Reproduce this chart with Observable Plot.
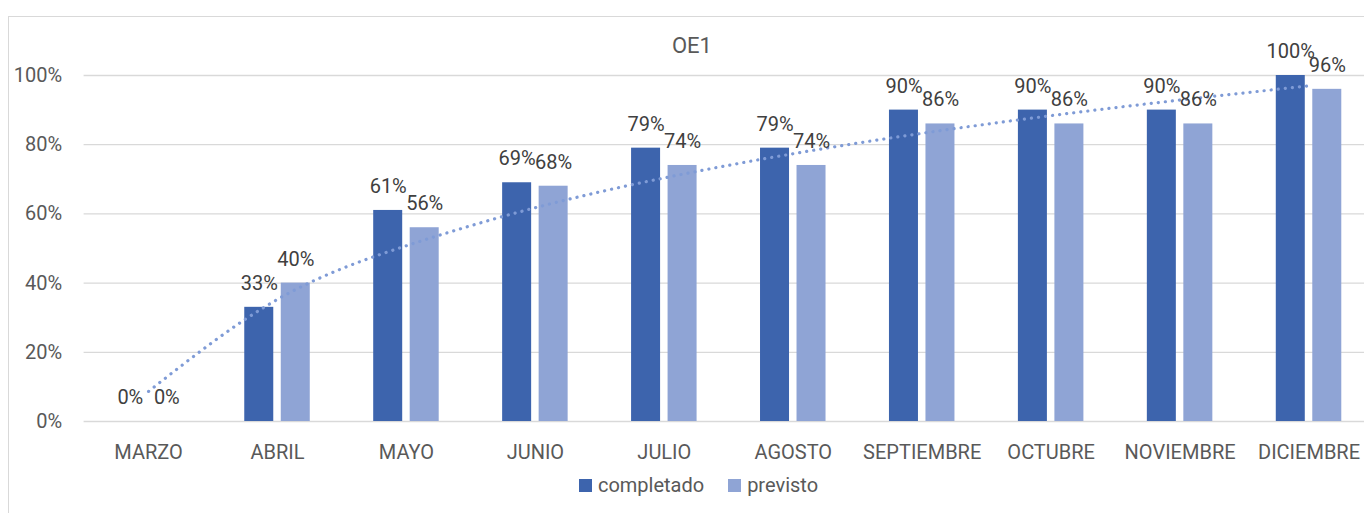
<!DOCTYPE html>
<html>
<head>
<meta charset="utf-8">
<script src="https://cdn.jsdelivr.net/npm/d3@7"></script>
<script src="https://cdn.jsdelivr.net/npm/@observablehq/plot@0.6"></script>
<style>
  body { margin: 0; background: #fff; font-family: Roboto, "DejaVu Sans", sans-serif; }
  #wrap { position: relative; width: 1364px; height: 513px; overflow: hidden; background: #fff; }
  #frame { position: absolute; left: 8px; top: 16px; width: 1380px; height: 530px; border: 1.3px solid #d9d9d9; box-sizing: border-box; }
  #title { position: absolute; top: 32px; left: 0; width: 1384px; text-align: center; font-size: 22px; color: #595959; line-height: 28px; }
  #chart { position: absolute; left: 0; top: 0; }
  #legend { position: absolute; top: 472px; left: 0; width: 1397px; display: flex; justify-content: center; align-items: center; font-size: 20px; color: #595959; line-height: 26px; }
  .item { display: flex; align-items: center; margin: 0 12px; }
  .sw { width: 13px; height: 13px; margin-right: 6px; }
</style>
</head>
<body>
<div id="wrap">
  <div id="frame"></div>
  <div id="chart"></div>
  <div id="title">OE1</div>
  <div id="legend"></div>
</div>
<script>
const months = ["MARZO", "ABRIL", "MAYO", "JUNIO", "JULIO", "AGOSTO", "SEPTIEMBRE", "OCTUBRE", "NOVIEMBRE", "DICIEMBRE"];
const completado = [0, 33, 61, 69, 79, 79, 90, 90, 90, 100];
const previsto = [0, 40, 56, 68, 74, 74, 86, 86, 86, 96];
// dotted trend line, read at each month centre
const tendencia = [8.7, 35.3, 50.8, 61.8, 70.4, 77.4, 83.3, 88.4, 92.9, 97.0];
const yTicks = [0, 20, 40, 60, 80, 100];
const seriesNames = ["completado", "previsto"];
const seriesColors = ["#3d64ad", "#8fa4d5"];
const trendColor = "#7f9bd6";

const compRows = months.map((m, i) => ({month: m, value: completado[i]}));
const prevRows = months.map((m, i) => ({month: m, value: previsto[i]}));
const trendRows = months.map((m, i) => ({month: m, value: tendencia[i]}));

const chart = Plot.plot({
  width: 1364,
  height: 460,
  marginLeft: 83.6,
  marginRight: -9,
  marginTop: 75,
  marginBottom: 39,
  style: {fontFamily: "Roboto, 'DejaVu Sans', sans-serif", fontSize: "20px", color: "#595959", background: "transparent", overflow: "visible"},
  x: {domain: months, paddingInner: 0.492, paddingOuter: 0.246, round: false, label: null},
  y: {domain: [0, 100], label: null},
  marks: [
    Plot.gridY(yTicks, {stroke: "#d9d9d9", strokeOpacity: 1, strokeWidth: 1.3}),
    Plot.axisY(yTicks, {tickSize: 0, tickPadding: 22, tickFormat: d => d + "%", fontSize: 20, fill: "#595959", label: null}),
    Plot.axisX({tickSize: 0, tickPadding: 23, fontSize: 20, fill: "#595959", label: null}),
    Plot.barY(compRows, {x: "month", y: "value", fill: seriesColors[0], insetRight: 36.5}),
    Plot.barY(prevRows, {x: "month", y: "value", fill: seriesColors[1], insetLeft: 36.5}),
    Plot.line(trendRows, {x: "month", y: "value", stroke: trendColor, strokeWidth: 3.2, strokeDasharray: "0.1 7", strokeLinecap: "round", curve: "natural"}),
    Plot.text(compRows, {x: "month", y: "value", text: d => d.value + "%", dx: -18.25, dy: -17.5, lineAnchor: "bottom", fill: "#404040", fontSize: 20}),
    Plot.text(prevRows, {x: "month", y: "value", text: d => d.value + "%", dx: 18.25, dy: -17.5, lineAnchor: "bottom", fill: "#404040", fontSize: 20})
  ]
});
document.getElementById("chart").appendChild(chart);

const legend = document.getElementById("legend");
seriesNames.forEach((name, i) => {
  const item = document.createElement("div");
  item.className = "item";
  const sw = document.createElement("div");
  sw.className = "sw";
  sw.style.background = seriesColors[i];
  const label = document.createElement("span");
  label.textContent = name;
  item.appendChild(sw);
  item.appendChild(label);
  legend.appendChild(item);
});
</script>
</body>
</html>
